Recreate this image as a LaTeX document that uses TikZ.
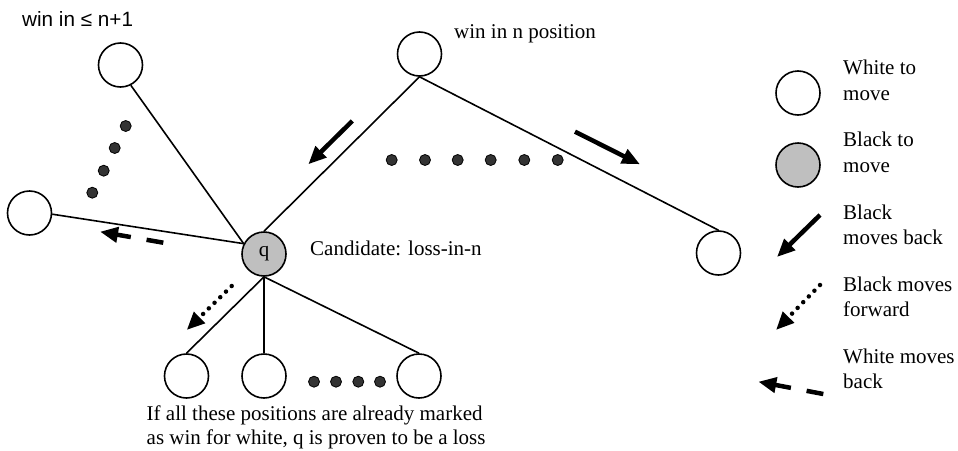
\documentclass[tikz,border=0pt]{standalone}
\usepackage{fontspec}
\setmainfont{Liberation Serif}
\newfontfamily\labelsans{Liberation Sans}
\usetikzlibrary{arrows.meta}
\begin{document}
\begin{tikzpicture}[x=1pt,y=-1pt,
  font=\fontsize{21}{23.5}\selectfont,
  posw/.style={circle,draw,line width=1.6pt,minimum size=44pt,inner sep=0pt,fill=white},
  posb/.style={posw,fill=black!25},
  ell/.style={circle,draw,line width=0.8pt,fill=black!80,minimum size=11pt,inner sep=0pt},
  link/.style={line width=1.6pt},
  mv/.style={line width=4.5pt,-{Triangle[length=18pt,width=15pt]}},
  bfwd/.style={mv,line cap=round,dash pattern=on 0pt off 8pt},
  wback/.style={mv,dash pattern=on 17pt off 16pt},
  lbl/.style={inner sep=0pt,anchor=base west},
  legtxt/.style={lbl,font=\fontsize{21}{25.5}\selectfont},
  ]
\useasboundingbox (0,0) rectangle (958,450);

% positions of the tree
\node[posw] (tl) at (120.5,65) {};
\node[posw] (lf) at (29.5,213) {};
\node[posw] (tc) at (419.5,54) {};
\node[posw] (rc) at (718.5,253) {};
\node[posb] (q) at (264,254) {q};
\node[posw] (b1) at (186.5,376) {};
\node[posw] (b2) at (264,376) {};
\node[posw] (b3) at (419,376) {};

% ellipsis dots
\foreach \i/\x/\y in {1/125.7/126,2/114.7/148,3/103.7/170.7,4/92.3/192.7}
  \node[ell] (dl\i) at (\x,\y) {};
\foreach \i/\x in {1/391.7,2/425,3/457.7,4/490.7,5/524.3,6/557.7}
  \node[ell] (dt\i) at (\x,160) {};
\foreach \i/\x in {1/314,2/336,3/358.3,4/380}
  \node[ell] (db\i) at (\x,381.7) {};

% moves
\coordinate (qj) at (q.153);
\draw[link] (tl.-63) -- (qj);
\draw[link] (lf.-3) -- (qj);
\draw[link] (tc.south) -- (q.north);
\draw[link] (tc.south) -- (rc.north);
\draw[link] (q.south) -- (b1.north);
\draw[link] (q.south) -- (b2.north);
\draw[link] (q.south) -- (b3.north);

% direction arrows in the tree
\coordinate (m1s) at (352.3,121);  \coordinate (m1e) at (308.3,164.3);
\coordinate (m2s) at (575,131.7);  \coordinate (m2e) at (640,164.3);
\coordinate (m3s) at (163.3,242.7); \coordinate (m3e) at (100,231.7);
\coordinate (m4s) at (231.7,286);  \coordinate (m4e) at (186.7,330);
\draw[mv] (m1s) -- (m1e);
\draw[mv] (m2s) -- (m2e);
\draw[wback] (m3s) -- (m3e);
\draw[bfwd] (m4s) -- (m4e);

% labels
\node[lbl,font=\labelsans\fontsize{20.7}{24}\selectfont] (tllab) at (22,26.7) {win in ≤ n+1};
\node[lbl] (tclab) at (454,38) {win in n position};
\node[lbl] (qlab) at (310,255) {Candidate: loss-in-n};
\node[lbl] (note) at (146.5,420.5) {\begin{tabular}[t]{@{}l@{}}If all these positions are already marked\\as win for white, q is proven to be a loss\end{tabular}};

% legend
\node[posw] (kw) at (798,93) {};
\node[posb] (kb) at (798,165) {};
\coordinate (k1s) at (820,215);   \coordinate (k1e) at (777,257);
\coordinate (k2s) at (820,285);   \coordinate (k2e) at (776,330);
\coordinate (k3s) at (823.3,394); \coordinate (k3e) at (758.3,381.7);
\draw[mv] (k1s) -- (k1e);
\draw[bfwd] (k2s) -- (k2e);
\draw[wback] (k3s) -- (k3e);
\node[legtxt] (kwl) at (843,74.5) {\begin{tabular}[t]{@{}l@{}}White to\\move\end{tabular}};
\node[legtxt] (kbl) at (843,146.5) {\begin{tabular}[t]{@{}l@{}}Black to\\move\end{tabular}};
\node[legtxt] (k1l) at (843,219.3) {\begin{tabular}[t]{@{}l@{}}Black\\moves back\end{tabular}};
\node[legtxt] (k2l) at (843,291) {\begin{tabular}[t]{@{}l@{}}Black moves\\forward\end{tabular}};
\node[legtxt] (k3l) at (843,363.3) {\begin{tabular}[t]{@{}l@{}}White moves\\back\end{tabular}};
\end{tikzpicture}
\end{document}
